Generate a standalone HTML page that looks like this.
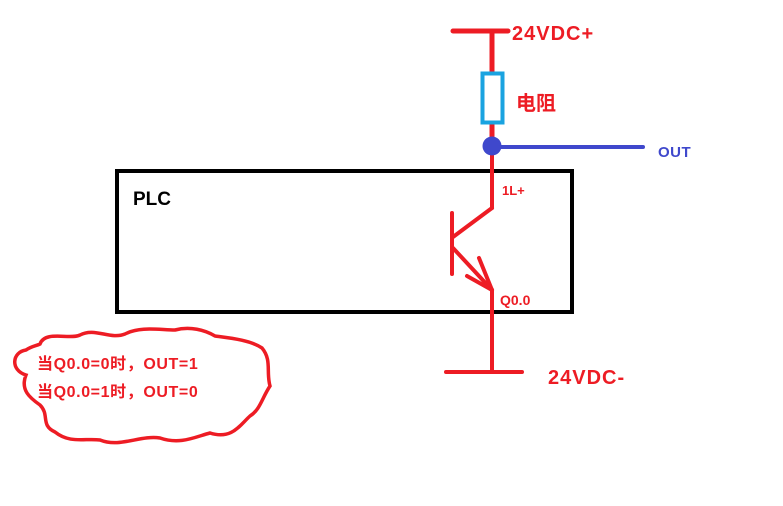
<!DOCTYPE html>
<html><head><meta charset="utf-8"><style>
html,body{margin:0;padding:0;background:#fff;width:783px;height:506px;overflow:hidden}
text{font-family:"Liberation Sans","Noto Sans CJK SC",sans-serif;font-weight:bold}
</style></head><body>
<svg width="783" height="506" viewBox="0 0 783 506" xmlns="http://www.w3.org/2000/svg">
<g stroke="#ed1c24" stroke-width="5" fill="none" stroke-linecap="round">
<line x1="453" y1="31" x2="508" y2="31"/>
<line x1="492" y1="31" x2="492" y2="73"/>
<line x1="492" y1="124" x2="492" y2="147"/>
</g>
<rect x="482.5" y="73.5" width="20" height="49" fill="#fff" stroke="#1aa3e0" stroke-width="4"/>
<rect x="117" y="171" width="455" height="141" fill="none" stroke="#000" stroke-width="4"/>
<g stroke="#ed1c24" stroke-width="4" fill="none" stroke-linecap="round">
<line x1="492" y1="147" x2="492" y2="208"/>
<line x1="492" y1="208" x2="453" y2="237"/>
<line x1="452" y1="213" x2="452" y2="274"/>
<line x1="453" y1="248" x2="492" y2="290"/>
<line x1="479" y1="258" x2="492" y2="290"/>
<line x1="467" y1="276" x2="492" y2="290"/>
<line x1="492" y1="290" x2="492" y2="372"/>
<line x1="446" y1="372" x2="522" y2="372"/>
</g>
<line x1="492" y1="147" x2="643" y2="147" stroke="#3f48cc" stroke-width="4" stroke-linecap="round"/>
<circle cx="492" cy="146" r="9.5" fill="#3f48cc"/>
<path d="M40,344 C45,330 70,340 80,335 C95,327 110,340 125,334 C140,326 160,330 175,330 C190,326 205,330 215,336 C230,338 250,340 262,348 C272,360 266,372 270,386 C262,398 260,410 250,416 C240,425 232,440 210,433 C195,437 180,445 160,438 C140,435 120,448 100,440 C85,438 70,444 55,432 C40,425 50,415 40,405 C30,398 20,390 26,375 C10,370 12,352 26,350 C32,346 36,346 40,344 Z" fill="none" stroke="#ed1c24" stroke-width="3.5"/>
<g fill="#ed1c24">
<text x="512" y="40" font-size="20" letter-spacing="1">24VDC+</text>
<text x="516" y="110" font-size="20">电阻</text>
<text x="502" y="195" font-size="13">1L+</text>
<text x="500" y="305" font-size="14">Q0.0</text>
<text x="548" y="384" font-size="20" letter-spacing="1">24VDC-</text>
<text x="37" y="369" font-size="16" letter-spacing="0.6">当Q0.0=0时，OUT=1</text>
<text x="37" y="397" font-size="16" letter-spacing="0.6">当Q0.0=1时，OUT=0</text>
</g>
<text x="658" y="157" font-size="15" fill="#3f48cc" letter-spacing="0.5">OUT</text>
<text x="133" y="205" font-size="19" fill="#000">PLC</text>
</svg>
</body></html>
